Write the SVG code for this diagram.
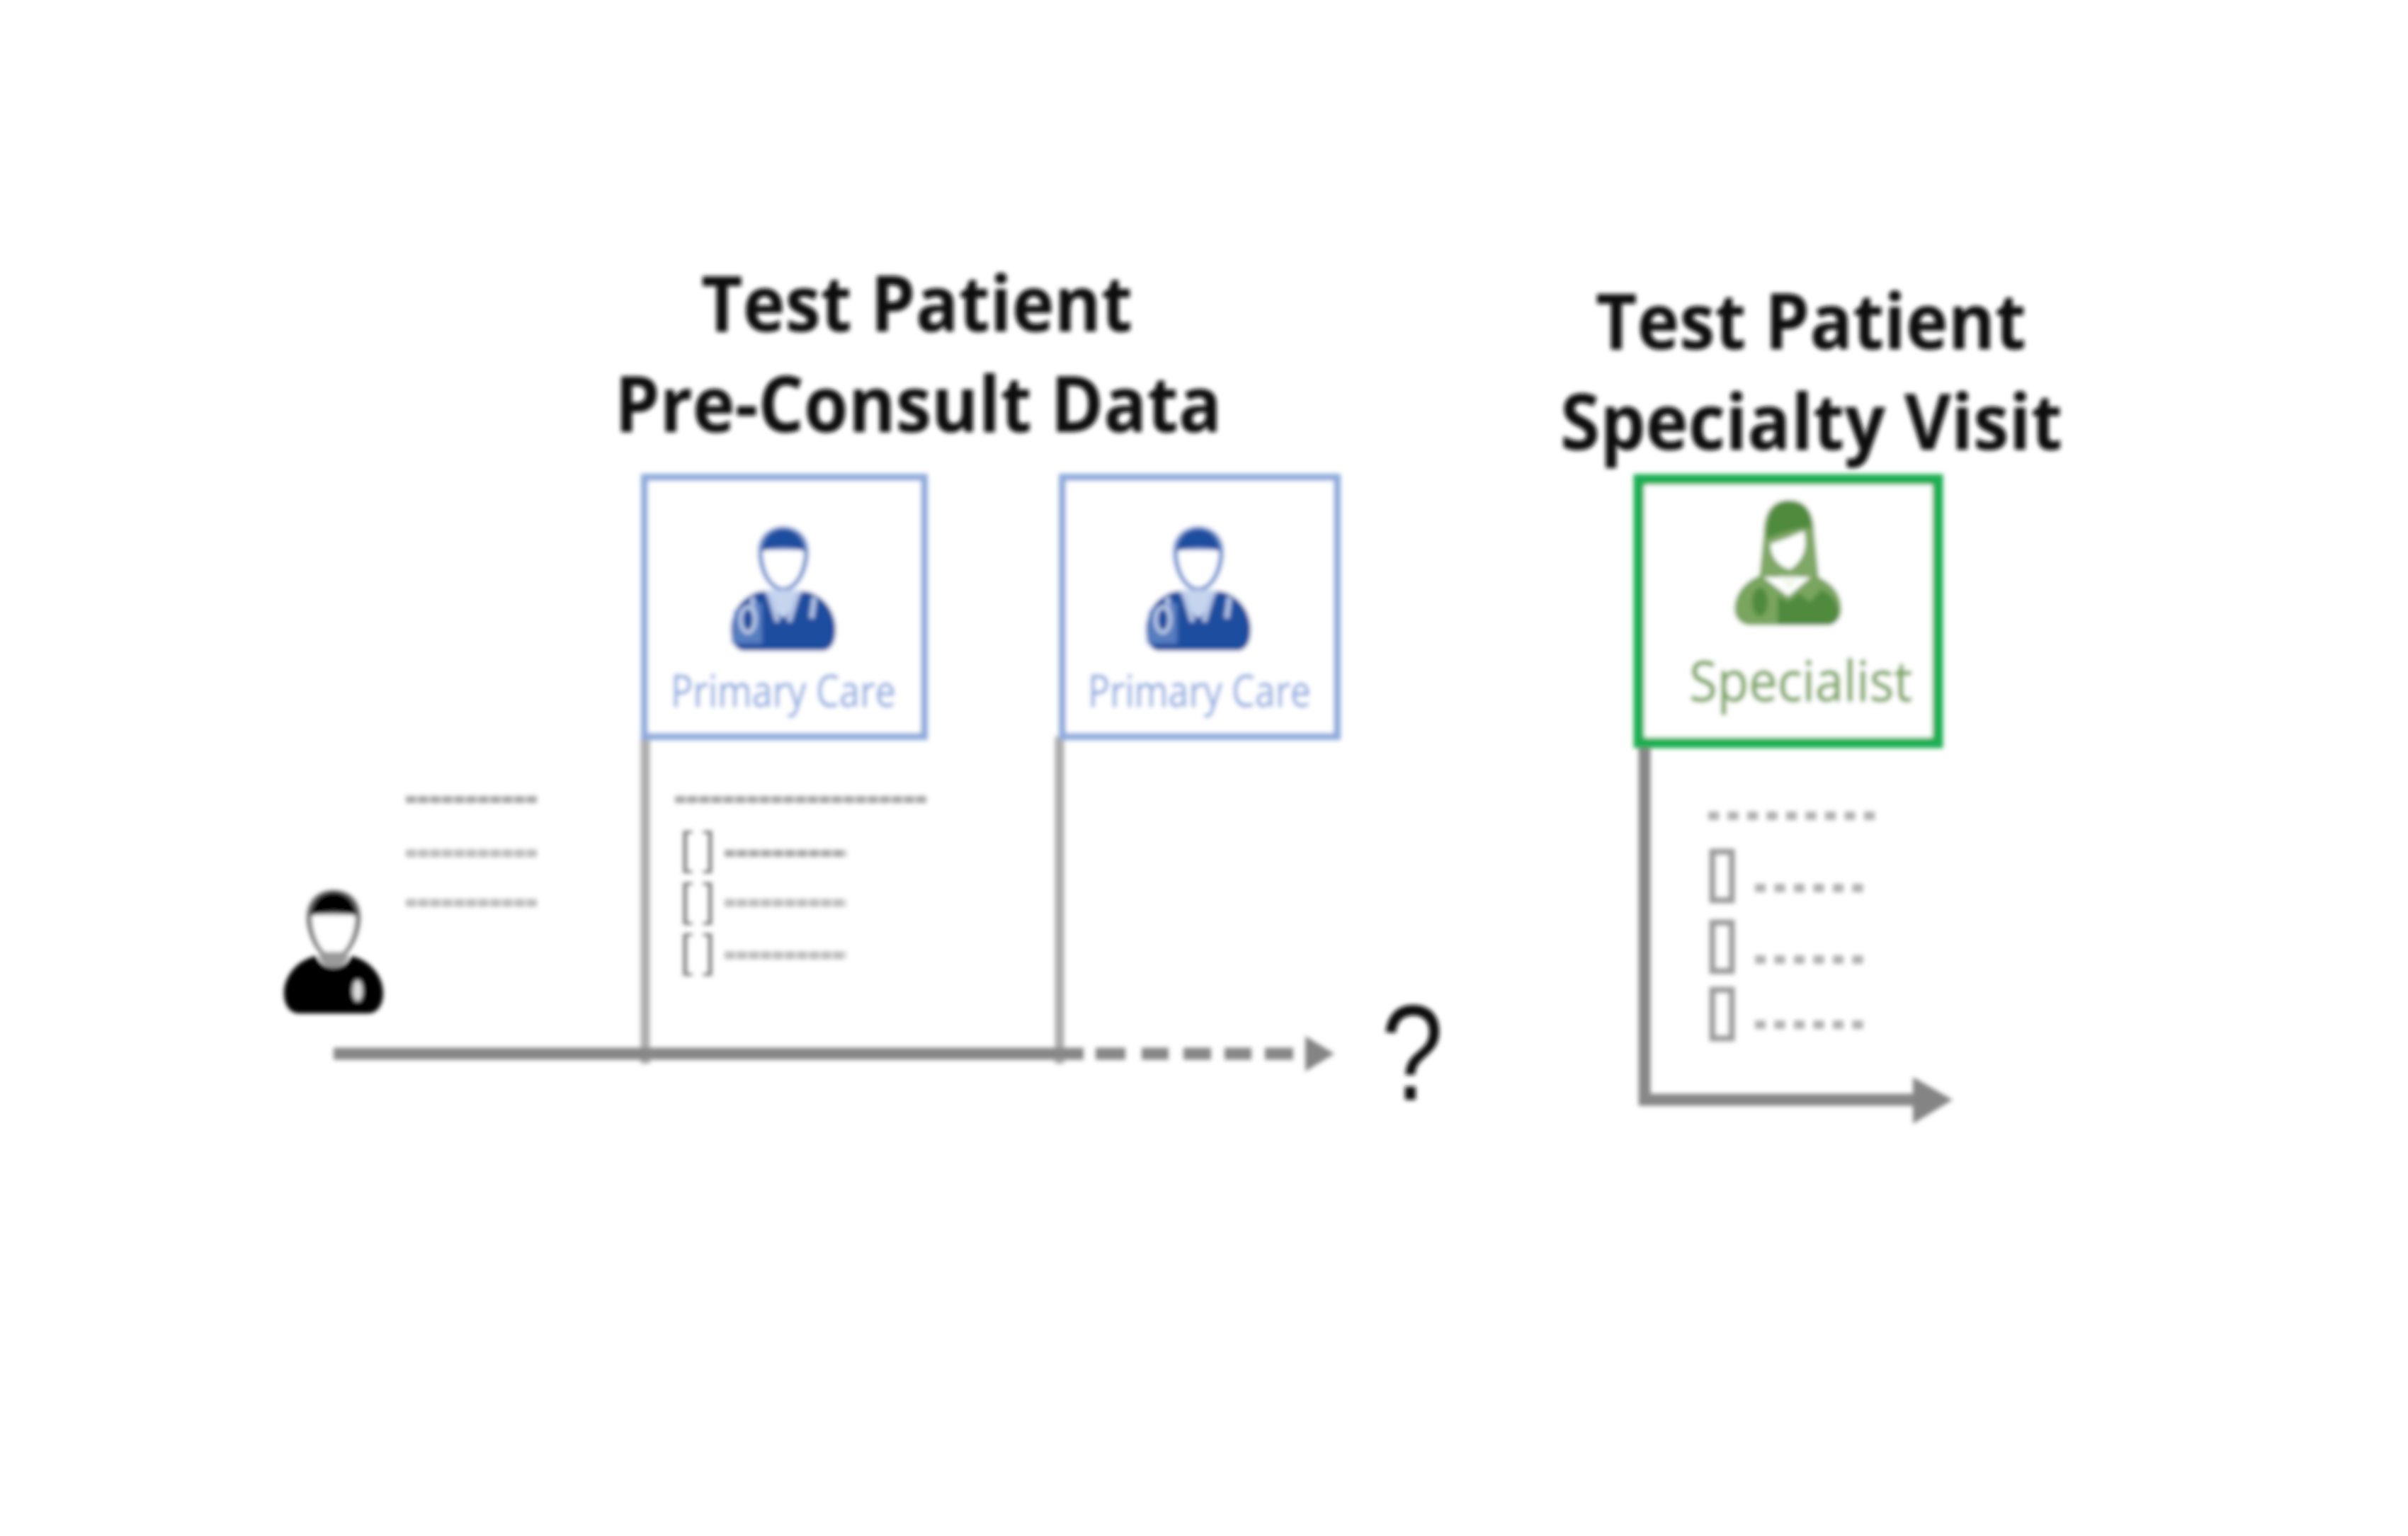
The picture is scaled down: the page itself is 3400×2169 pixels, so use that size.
<svg xmlns="http://www.w3.org/2000/svg" xmlns:xlink="http://www.w3.org/1999/xlink" width="3400" height="2169" viewBox="0 0 3400 2169">
<style>
.title{font-family:"Open Sans","Liberation Sans",sans-serif;font-weight:700;font-size:110px;fill:#0c0c0c}
.pc{font-family:"Open Sans","Liberation Sans",sans-serif;font-size:62px;fill:#8eabdf;stroke:#8eabdf;stroke-width:.8}
.sp{font-family:"Open Sans","Liberation Sans",sans-serif;font-size:78px;fill:#7aa55e;stroke:#7aa55e;stroke-width:1.4}
.box{fill:#fff;stroke:#8faadc;stroke-width:10}
.tl{fill:none;stroke:#878787;stroke-width:17}
.drop{fill:none;stroke:#acacac;stroke-width:13}
.row{fill:none;stroke:#a8a8a8;stroke-width:10;stroke-dasharray:15 2}
.row2{fill:none;stroke:#bdbdbd;stroke-width:11;stroke-dasharray:15 2}
.br{font-family:"Liberation Sans",sans-serif;font-size:64px;fill:#7c7c7c}
.dots{fill:none;stroke:#b0b0b0;stroke-width:12;stroke-dasharray:15 12.5}
.cb{fill:#fff;stroke:#9c9c9c;stroke-width:9}
.ah{fill:#848484}
</style>
<defs>
<filter id="soft" filterUnits="userSpaceOnUse" x="0" y="0" width="3400" height="2169"><feGaussianBlur stdDeviation="3"/></filter>
<g id="doc">
<path d="M-36 36C-36 12-18 0 0 0C18 0 36 12 36 36C36 62 22 92 0 92C-22 92-36 62-36 36Z" fill="#6f92cf"/>
<path d="M-29 34H29C29 62 16 86 0 86C-16 86-29 62-29 34Z" fill="#fff"/>
<path d="M-30 36C-30 14-14 4 0 4C14 4 30 14 30 36C14 28-14 28-30 36Z" fill="#1f4e9f"/>
<path d="M-32 92C-60 98-74 124-74 146C-74 166-66 176-54 176H54C66 176 74 166 74 146C74 124 60 98 32 92Z" fill="#1f4e9f"/>
<path d="M-28 90L-4 128H4L28 90Z" fill="#c6d4ee"/>
<path d="M-20 96L-8 135M20 96L8 135M-44 100L-40 130M44 100L40 130" stroke="#b7c8e8" stroke-width="7" fill="none"/>
<path d="M-70 118L-30 108V166H-74Z" fill="#6f92cf" opacity=".7"/>
<ellipse cx="-50" cy="132" rx="10" ry="18" fill="#1f4e9f" stroke="#c6d4ee" stroke-width="5"/>
</g>
</defs>
<rect width="3400" height="2169" fill="#fff"/>
<g filter="url(#soft)">
<g id="title-left">
<text class="title" x="990" y="468" textLength="609" lengthAdjust="spacingAndGlyphs">Test Patient</text>
<text class="title" x="868" y="610" textLength="857" lengthAdjust="spacingAndGlyphs">Pre-Consult Data</text>
</g>
<g id="title-right">
<text class="title" x="2253" y="493" textLength="608" lengthAdjust="spacingAndGlyphs">Test Patient</text>
<text class="title" x="2203" y="635" textLength="709" lengthAdjust="spacingAndGlyphs">Specialty Visit</text>
</g>
<g id="connectors">
<path class="drop" d="M911 1040V1502"/>
<path class="drop" d="M1496 1040V1502"/>
<path class="tl" d="M471 1488H1530"/>
<path class="tl" d="M1547 1488H1589M1612 1488H1650M1671 1488H1710M1729 1488H1767M1786 1488H1826"/>
<polygon class="ah" points="1843,1463 1884,1488 1843,1513"/>
<path class="tl" d="M2322 1050V1553H2705"/>
<polygon class="ah" points="2701,1521 2757,1553 2701,1587"/>
</g>
<g id="primary-care-1">
<rect class="box" x="910" y="674" width="395" height="366"/>
<use xlink:href="#doc" href="#doc" transform="translate(1106,743)"/>
<text class="pc" x="947" y="998" textLength="318" lengthAdjust="spacingAndGlyphs">Primary Care</text>
</g>
<g id="primary-care-2">
<rect class="box" x="1500" y="674" width="388" height="366"/>
<use xlink:href="#doc" href="#doc" transform="translate(1692,743)"/>
<text class="pc" x="1536" y="998" textLength="315" lengthAdjust="spacingAndGlyphs">Primary Care</text>
</g>
<g id="specialist">
<rect x="2314" y="677" width="422" height="372" fill="#fff" stroke="#1fae52" stroke-width="15"/>
<path d="M2490 755C2490 722 2503 706 2526 706C2549 706 2562 722 2562 755L2568 815H2484Z" fill="#7fa765"/>
<path d="M2494 760C2494 722 2507 708 2526 708C2545 708 2558 722 2558 745C2535 745 2520 752 2494 760Z" fill="#4f8a3c"/>
<path d="M2500 768C2520 762 2535 755 2547 750C2552 770 2548 790 2528 804C2510 800 2500 785 2500 768Z" fill="#fff"/>
<path d="M2486 812C2460 822 2449 842 2449 860C2449 874 2460 883 2472 883H2578C2590 883 2600 874 2600 860C2600 842 2590 822 2560 812L2525 842Z" fill="#79a55f"/>
<path d="M2510 883V842L2525 850L2540 838L2556 850L2572 832C2590 842 2597 856 2596 870C2594 880 2586 883 2578 883Z" fill="#4f8a3c"/>
<path d="M2512 814L2526 834L2540 814Z" fill="#f2f7ee"/>
<ellipse cx="2485" cy="850" rx="11" ry="20" fill="#4f8a3c"/>
<text class="sp" x="2385" y="990" textLength="315" lengthAdjust="spacingAndGlyphs">Specialist</text>
</g>
<g id="patient">
<path d="M433 1296C433 1270 450 1257 471 1257C492 1257 509 1270 509 1296C509 1320 492 1356 471 1356C450 1356 433 1320 433 1296Z" fill="#6e6e6e"/>
<path d="M440 1292H502C502 1320 488 1350 471 1350C454 1350 440 1320 440 1292Z" fill="#fff"/>
<path d="M439 1294C439 1272 455 1260 471 1260C487 1260 503 1272 503 1294C488 1286 454 1286 439 1294Z" fill="#060606"/>
<path d="M446 1350C418 1356 401 1380 401 1402C401 1420 410 1431 422 1431H520C532 1431 541 1420 541 1402C541 1380 524 1356 496 1350C490 1372 452 1372 446 1350Z" fill="#060606"/>
<path d="M450 1350C456 1372 486 1372 492 1350L484 1344H458Z" fill="#9a9a9a"/>
<ellipse cx="505" cy="1399" rx="7" ry="15" fill="#ddd"/>
</g>
<g id="patient-notes">
<path class="row" d="M573 1129H758"/>
<path class="row2" d="M573 1205H758"/>
<path class="row2" d="M573 1275H758"/>
</g>
<g id="visit-1-notes">
<path class="row" d="M953 1129H1310"/>
<path class="row" d="M1023 1205H1195"/>
<path class="row2" d="M1023 1275H1195"/>
<path class="row2" d="M1023 1349H1195"/>
<text class="br" x="960" y="1220" textLength="50" lengthAdjust="spacing">[ ]</text>
<text class="br" x="960" y="1293" textLength="50" lengthAdjust="spacing">[ ]</text>
<text class="br" x="960" y="1365" textLength="50" lengthAdjust="spacing">[ ]</text>
</g>
<g id="specialty-notes">
<path class="dots" d="M2412 1152H2650"/>
<rect class="cb" x="2418" y="1203" width="27" height="68"/>
<rect class="cb" x="2418" y="1303" width="27" height="68"/>
<rect class="cb" x="2418" y="1398" width="27" height="68"/>
<path class="dots" d="M2478 1254H2638"/>
<path class="dots" d="M2478 1355H2638"/>
<path class="dots" d="M2478 1447H2638"/>
</g>
<g id="unknown">
<text x="1950" y="1553" textLength="88" lengthAdjust="spacingAndGlyphs" font-family="'Liberation Sans',sans-serif" font-size="192" fill="#111">?</text>
</g>
</g>
</svg>
